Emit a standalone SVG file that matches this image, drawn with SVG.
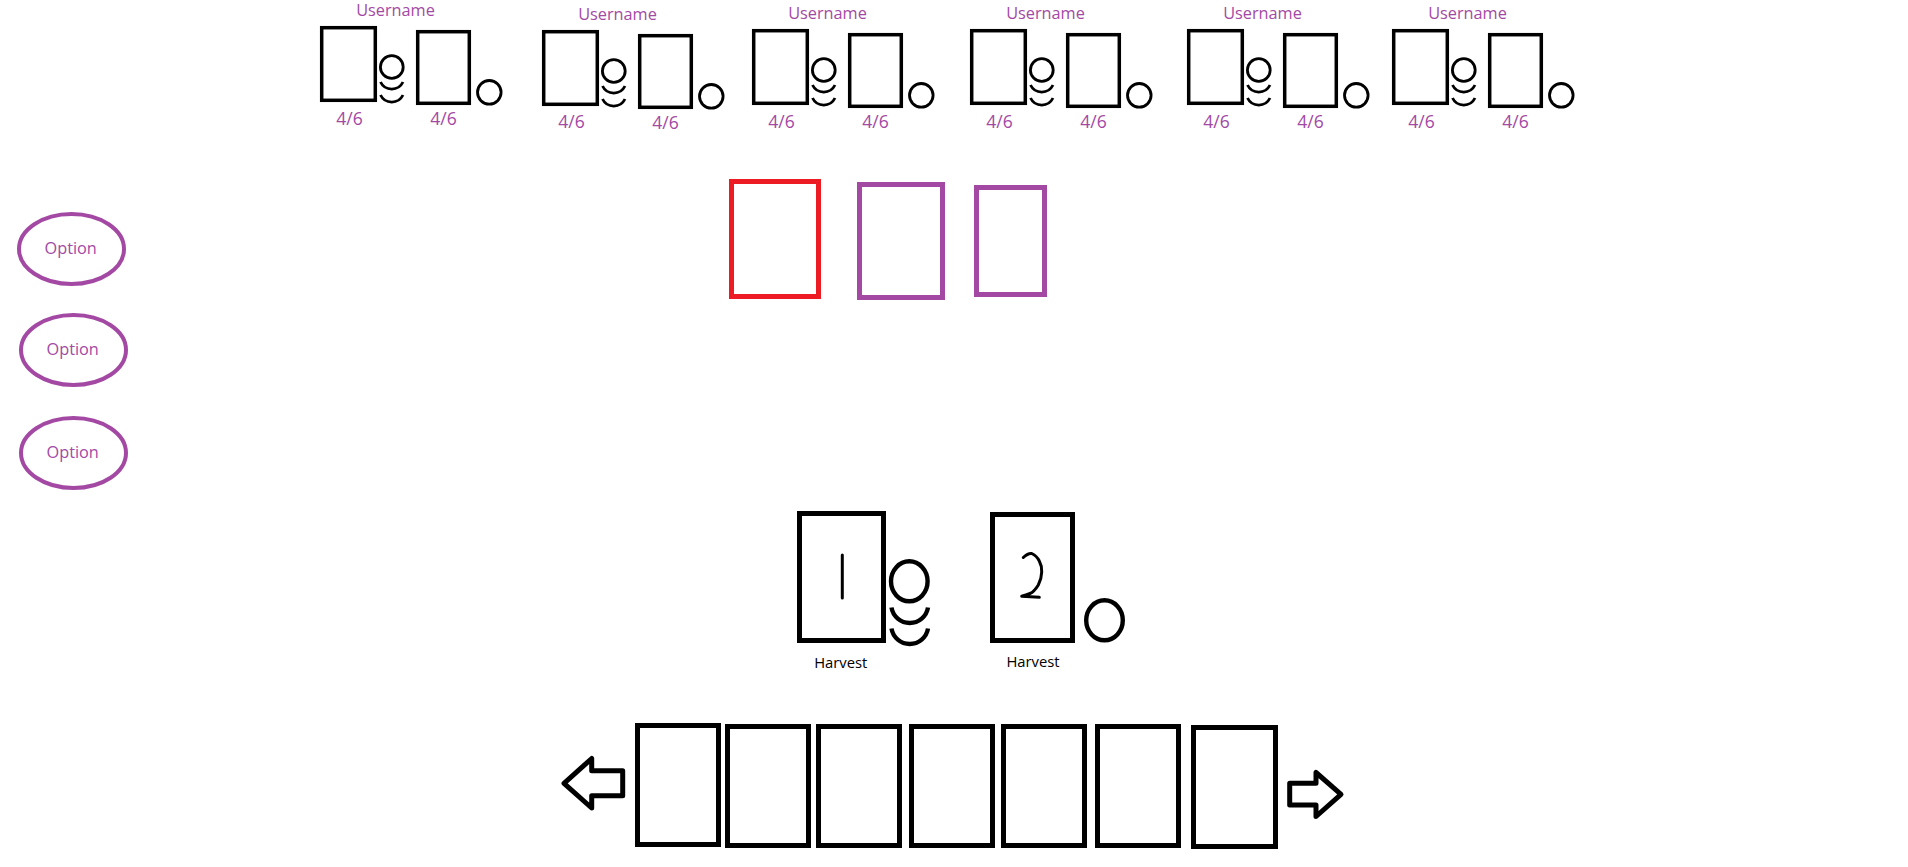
<svg xmlns="http://www.w3.org/2000/svg" width="1908" height="867" viewBox="0 0 1908 867">
<style>
text{font-family:"Open Sans","Noto Sans","Liberation Sans",sans-serif}
.p{fill:#a349a4;font-size:16.3px;text-anchor:middle}
.f{fill:#a349a4;font-size:17.5px;text-anchor:middle}
.h{fill:#000;font-size:14.8px;text-anchor:middle}
.c{fill:#fff;stroke:#000;stroke-width:3.5}
.d{fill:none;stroke:#000;stroke-width:2.8}
.b{fill:#fff;stroke:#000;stroke-width:5}
.e{fill:none;stroke:#000;stroke-width:4.4}
.o{fill:#fff;stroke:#a349a4;stroke-width:4}
.a{fill:#fff;stroke:#000;stroke-width:5;stroke-linejoin:round}
</style>
<defs>
<g id="stack"><circle cx="391.8" cy="67" r="11.4" class="d"/><path d="M380.5 82A12.5 12.5 0 0 0 403 82M380.5 95A12.5 12.5 0 0 0 403 95" class="d"/></g>
</defs>
<rect width="1908" height="867" fill="#fff"/>
<g id="player-1">
<text x="395.5" y="16" class="p">Username</text>
<rect x="321.7" y="27.7" width="53.6" height="72.6" class="c"/><use href="#stack"/>
<rect x="417.7" y="31.7" width="51.6" height="71.6" class="c"/><circle cx="489.3" cy="92.3" r="11.8" class="d"/>
<text x="349.5" y="125" class="f">4/6</text><text x="443.5" y="125" class="f">4/6</text>
</g>
<g id="player-2" transform="translate(222 4)">
<text x="395.5" y="16" class="p">Username</text>
<rect x="321.7" y="27.7" width="53.6" height="72.6" class="c"/><use href="#stack"/>
<rect x="417.7" y="31.7" width="51.6" height="71.6" class="c"/><circle cx="489.3" cy="92.3" r="11.8" class="d"/>
<text x="349.5" y="124" class="f">4/6</text><text x="443.5" y="125" class="f">4/6</text>
</g>
<g id="player-3" transform="translate(432 3)">
<text x="395.5" y="16" class="p">Username</text>
<rect x="321.7" y="27.7" width="53.6" height="72.6" class="c"/><use href="#stack"/>
<rect x="417.7" y="31.7" width="51.6" height="71.6" class="c"/><circle cx="489.3" cy="92.3" r="11.8" class="d"/>
<text x="349.5" y="125" class="f">4/6</text><text x="443.5" y="125" class="f">4/6</text>
</g>
<g id="player-4" transform="translate(650 3)">
<text x="395.5" y="16" class="p">Username</text>
<rect x="321.7" y="27.7" width="53.6" height="72.6" class="c"/><use href="#stack"/>
<rect x="417.7" y="31.7" width="51.6" height="71.6" class="c"/><circle cx="489.3" cy="92.3" r="11.8" class="d"/>
<text x="349.5" y="125" class="f">4/6</text><text x="443.5" y="125" class="f">4/6</text>
</g>
<g id="player-5" transform="translate(867 3)">
<text x="395.5" y="16" class="p">Username</text>
<rect x="321.7" y="27.7" width="53.6" height="72.6" class="c"/><use href="#stack"/>
<rect x="417.7" y="31.7" width="51.6" height="71.6" class="c"/><circle cx="489.3" cy="92.3" r="11.8" class="d"/>
<text x="349.5" y="125" class="f">4/6</text><text x="443.5" y="125" class="f">4/6</text>
</g>
<g id="player-6" transform="translate(1072 3)">
<text x="395.5" y="16" class="p">Username</text>
<rect x="321.7" y="27.7" width="53.6" height="72.6" class="c"/><use href="#stack"/>
<rect x="417.7" y="31.7" width="51.6" height="71.6" class="c"/><circle cx="489.3" cy="92.3" r="11.8" class="d"/>
<text x="349.5" y="125" class="f">4/6</text><text x="443.5" y="125" class="f">4/6</text>
</g>
<g id="option-1"><ellipse cx="71.5" cy="249" rx="52.5" ry="35" class="o"/><text x="70.7" y="254.3" class="p">Option</text></g>
<g id="option-2"><ellipse cx="73.5" cy="350" rx="52.5" ry="35" class="o"/><text x="72.7" y="355.3" class="p">Option</text></g>
<g id="option-3"><ellipse cx="73.5" cy="453" rx="52.5" ry="35" class="o"/><text x="72.7" y="458.3" class="p">Option</text></g>
<g id="slot-red"><rect x="731.5" y="181.5" width="87" height="115" fill="#fff" stroke="#ed1c24" stroke-width="5"/></g>
<g id="slot-purple-1"><rect x="859.5" y="184.5" width="83" height="113" fill="#fff" stroke="#a349a4" stroke-width="5"/></g>
<g id="slot-purple-2"><rect x="976.5" y="187.5" width="68" height="107" fill="#fff" stroke="#a349a4" stroke-width="5"/></g>
<g id="harvest-1">
<rect x="799.5" y="513.5" width="84" height="127" class="b"/>
<path d="M842.3 555V598" fill="none" stroke="#000" stroke-width="3" stroke-linecap="round"/>
<ellipse cx="909.3" cy="581.3" rx="18.3" ry="20" class="e"/>
<path d="M891.5 607.5A18.5 18.5 0 0 0 928 607.5M891.5 628.5A18.5 18.5 0 0 0 928 628.5" class="e"/>
<text x="840.8" y="668" class="h">Harvest</text>
</g>
<g id="harvest-2">
<rect x="992.5" y="514.5" width="80" height="126" class="b"/>
<path d="M1023.3 557.5Q1028 553 1031.7 553.5Q1037 556 1039.3 561Q1042 566 1041.7 572Q1041.5 579 1038.3 585Q1034 592 1030 593.5Q1026 595 1021.7 596.3L1039.3 597.3" fill="none" stroke="#000" stroke-width="3" stroke-linecap="round" stroke-linejoin="round"/>
<ellipse cx="1104.5" cy="620.3" rx="18.3" ry="20" class="e"/>
<text x="1033" y="666.7" class="h">Harvest</text>
</g>
<g id="hand-1"><rect x="637.5" y="725.5" width="81" height="119" class="b"/></g>
<g id="hand-2"><rect x="727.5" y="726.5" width="81" height="119" class="b"/></g>
<g id="hand-3"><rect x="818.5" y="726.5" width="81" height="119" class="b"/></g>
<g id="hand-4"><rect x="911.5" y="726.5" width="81" height="119" class="b"/></g>
<g id="hand-5"><rect x="1003.5" y="726.5" width="81" height="119" class="b"/></g>
<g id="hand-6"><rect x="1097.5" y="726.5" width="81" height="119" class="b"/></g>
<g id="hand-7"><rect x="1193.5" y="727.5" width="82" height="119" class="b"/></g>
<g id="arrow-left"><path d="M564 783.3L591.7 758.5V770.7H622.7V795.7H591.7V808Z" class="a"/></g>
<g id="arrow-right"><path d="M1341 794.3L1316 772.5V783.3H1289.7V805H1316V816.5Z" class="a"/></g>
</svg>
